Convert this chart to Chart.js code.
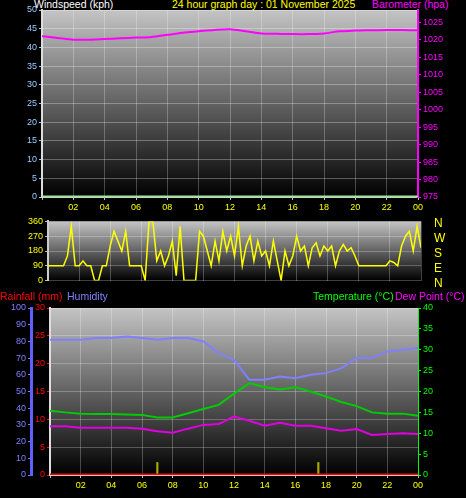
<!DOCTYPE html>
<html>
<head>
<meta charset="utf-8">
<script src="https://cdn.jsdelivr.net/npm/chart.js@4"></script>
<style>
  body { margin: 0; background: #000; width: 466px; height: 498px; overflow: hidden; position: relative; font-family: "Liberation Sans", sans-serif; }
  .t { position: absolute; font-size: 10.5px; white-space: nowrap; line-height: 12px; }
  .c { position: absolute; left: 0; }
</style>
</head>
<body>
<div class="t" style="left:34px;top:-2px;color:#fff">Windspeed (kph)</div>
<div class="t" style="left:172px;top:-2px;color:#ff0">24 hour graph day : 01 November 2025</div>
<div class="t" style="left:372px;top:-2px;color:#f0f">Barometer (hpa)</div>
<div class="c" style="top:0;width:466px;height:222px"><canvas id="windChart"></canvas></div>

<div class="c" style="top:214px;width:466px;height:74px"><canvas id="dirChart"></canvas></div>
<div class="t" style="left:434px;top:216px;color:#ff0;font-size:12px;line-height:15px">N<br>W<br>S<br>E<br>N</div>

<div class="t" style="left:0;top:290px;color:#f00">Rainfall (mm)</div>
<div class="t" style="left:67px;top:290px;color:#8080ff">Humidity</div>
<div class="t" style="left:313px;top:290px;color:#0f0">Temperature (°C)</div>
<div class="t" style="left:395px;top:290px;color:#f0f">Dew Point (°C)</div>
<div class="c" style="top:300px;width:466px;height:198px"><canvas id="tempChart"></canvas></div>

<script>
// Data (hours 0..24)
var hours = [0,1,2,3,4,5,6,7,8,9,10,11,12,13,14,15,16,17,18,19,20,21,22,23,24];
var hourLabels = ["02","04","06","08","10","12","14","16","18","20","22","00"];
var barometer = [1021,1020.5,1020,1020,1020.2,1020.4,1020.6,1020.8,1021.4,1022,1022.4,1022.8,1023,1022.4,1021.8,1021.7,1021.6,1021.6,1021.8,1022.4,1022.6,1022.7,1022.8,1022.8,1022.7];
var windspeed = [0,0,0,0,0,0,0,0,0,0,0,0,0,0,0,0,0,0,0,0,0,0,0,0,0];
var humidity = [81,81,81,82,82,83,82,81,82,82,80,73,69,57,57,59,58,60,61,64,70,70,74,75,76];
var temperature = [15.4,15,14.7,14.6,14.6,14.5,14.4,13.8,13.8,14.8,15.8,16.8,19.5,22,21,20.5,21,20,18.8,17.5,16.5,15,14.7,14.7,14.2];
var dewPoint = [11.7,11.7,11.3,11.3,11.3,11.3,11.1,10.5,10.1,11.1,12,12.2,14,13,11.8,12.5,11.8,11.8,11.2,10.6,11,9.6,9.8,10,9.8];
var rainfall = [0,0,0,0,0,0,0,0,0,0,0,0,0,0,0,0,0,0,0,0,0,0,0,0,0];
var markerHours = [7, 17.5];
// wind direction every 15 minutes
var windDir = [90,90,90,90, 90,150,330,90, 90,120,90,90, 0,0,90,90,
  210,300,240,180, 300,90,90,90, 90,0,360,360, 120,180,90,150,
  240,30,330,0, 0,0,0,300, 270,180,90,240, 120,300,180,270,
  150,330,90,210, 270,120,240,150, 180,90,240,120, 0,180,90,150,
  270,180,210,90, 200,230,150,210, 180,210,90,180, 220,180,200,150,
  90,90,90,90, 90,90,90,90, 120,110,90,210, 270,300,180,330, 200];

function pts(ys, step) {
  return ys.map(function(v, i) { return {x: i * step, y: v}; });
}

// gray gradient background
var bgPlugin = {
  id: 'bg',
  beforeDraw: function(chart) {
    var a = chart.chartArea, ctx = chart.ctx;
    var g = ctx.createLinearGradient(0, a.top, 0, a.bottom);
    g.addColorStop(0, '#c4c4c4');
    g.addColorStop(1, '#000');
    ctx.save();
    ctx.fillStyle = g;
    ctx.fillRect(a.left, a.top, a.right - a.left, a.bottom - a.top);
    ctx.restore();
  }
};

function xAxis(show) {
  return {
    type: 'linear', min: 0, max: 24, offset: false,
    afterBuildTicks: function(s) { s.ticks = hours.filter(function(h){return h % 2 == 0;}).map(function(h){return {value: h};}); },
    grid: { color: 'rgba(255,255,255,0.25)', borderDash: [1,2], drawTicks: show, tickLength: 3, tickColor: '#bbb', offset: false },
    border: { display: show, color: '#ccc', width: 2 },
    ticks: { display: show, color: '#ff0', font: { size: 9 }, padding: 2,
      callback: function(v) { return v == 0 ? '' : hourLabels[v / 2 - 1]; } }
  };
}
function fit(w) { return function(s) { s.width = w; }; }
function fitH(h) { return function(s) { s.height = h; }; }

Chart.defaults.font.family = 'Liberation Sans';
Chart.defaults.animation = false;

new Chart(document.getElementById('windChart'), {
  type: 'line',
  data: { datasets: [
    { data: pts(barometer, 1), yAxisID: 'baro', borderColor: '#f0f', borderWidth: 2, pointRadius: 0, tension: 0.3 },
    { data: pts(windspeed, 1), yAxisID: 'wind', borderColor: '#90ee90', borderWidth: 3, pointRadius: 0 }
  ]},
  options: {
    responsive: true, maintainAspectRatio: false,
    layout: { padding: { top: 10 } },
    plugins: { legend: { display: false }, tooltip: { enabled: false } },
    scales: {
      x: Object.assign(xAxis(true), { afterFit: fitH(25) }),
      wind: { position: 'left', min: 0, max: 50, afterFit: fit(42),
        ticks: { stepSize: 5, color: '#9cf', font: { size: 9 }, padding: 2 },
        grid: { color: 'rgba(255,255,255,0.3)', borderDash: [1,2], tickLength: 3, tickColor: '#9cf' },
        border: { color: '#ddd', width: 2 } },
      baro: { position: 'right', min: 975, max: 1028.5, afterFit: fit(48),
        afterBuildTicks: function(s) { var t = []; for (var v = 975; v <= 1025; v += 5) t.push({value: v}); s.ticks = t; },
        ticks: { color: '#f0f', font: { size: 9 }, padding: 2, callback: function(v) { return String(v); } },
        grid: { drawOnChartArea: false, tickLength: 3, tickColor: '#f0f' },
        border: { color: '#f0f', width: 2 } }
    }
  },
  plugins: [bgPlugin]
});

new Chart(document.getElementById('dirChart'), {
  type: 'line',
  data: { datasets: [
    { data: pts(windDir, 0.25), borderColor: '#ff0', borderWidth: 1.5, pointRadius: 0 }
  ]},
  options: {
    responsive: true, maintainAspectRatio: false,
    layout: { padding: { top: 7, right: 45, bottom: 4 } },
    plugins: { legend: { display: false }, tooltip: { enabled: false } },
    scales: {
      x: Object.assign(xAxis(false), { afterFit: fitH(0) }),
      y: { min: 0, max: 360, afterFit: fit(48),
        afterBuildTicks: function(s) { s.ticks = [0,90,180,270,360].map(function(v){return {value: v};}); },
        ticks: { color: '#ff0', font: { size: 9 }, padding: 2 },
        grid: { color: 'rgba(255,255,255,0.25)', borderDash: [1,2], tickLength: 3, tickColor: '#bbb' },
        border: { color: '#ccc', width: 2 } }
    }
  },
  plugins: [bgPlugin]
});

new Chart(document.getElementById('tempChart'), {
  data: { datasets: [
    { type: 'line', data: pts(humidity, 1), yAxisID: 'hum', borderColor: '#8080ff', borderWidth: 2, pointRadius: 0 },
    { type: 'line', data: pts(temperature, 1), yAxisID: 'temp', borderColor: '#0c0', borderWidth: 2, pointRadius: 0 },
    { type: 'line', data: pts(dewPoint, 1), yAxisID: 'temp', borderColor: '#e000e0', borderWidth: 2, pointRadius: 0 },
    { type: 'line', data: pts(rainfall, 1), yAxisID: 'rain', borderColor: '#f00', borderWidth: 3, pointRadius: 0 },
    { type: 'bar', data: markerHours.map(function(h){ return {x: h, y: 3}; }), yAxisID: 'temp', backgroundColor: '#aa0', barThickness: 1.5 }
  ]},
  options: {
    responsive: true, maintainAspectRatio: false,
    layout: { padding: { top: 8 } },
    plugins: { legend: { display: false }, tooltip: { enabled: false } },
    scales: {
      x: Object.assign(xAxis(true), { afterFit: fitH(23) }),
      hum: { position: 'left', weight: 2, min: 0, max: 100, afterFit: fit(31),
        ticks: { stepSize: 10, color: '#8080ff', font: { size: 9 }, padding: 2 },
        grid: { drawOnChartArea: false, tickLength: 3, tickColor: '#8080ff' },
        border: { color: '#6060ff', width: 3 } },
      rain: { position: 'left', weight: 1, min: 0, max: 30, afterFit: fit(19),
        ticks: { stepSize: 5, color: '#f00', font: { size: 9 }, padding: 2 },
        grid: { color: 'rgba(255,255,255,0.25)', borderDash: [1,2], tickLength: 3, tickColor: '#f00' },
        border: { color: '#ddd', width: 2 } },
      temp: { position: 'right', min: 0, max: 40, afterFit: fit(48),
        ticks: { stepSize: 5, color: '#0f0', font: { size: 9 }, padding: 2 },
        grid: { drawOnChartArea: false, tickLength: 3, tickColor: '#0f0' },
        border: { color: '#0f0', width: 1 } }
    }
  },
  plugins: [bgPlugin]
});
</script>
</body>
</html>
